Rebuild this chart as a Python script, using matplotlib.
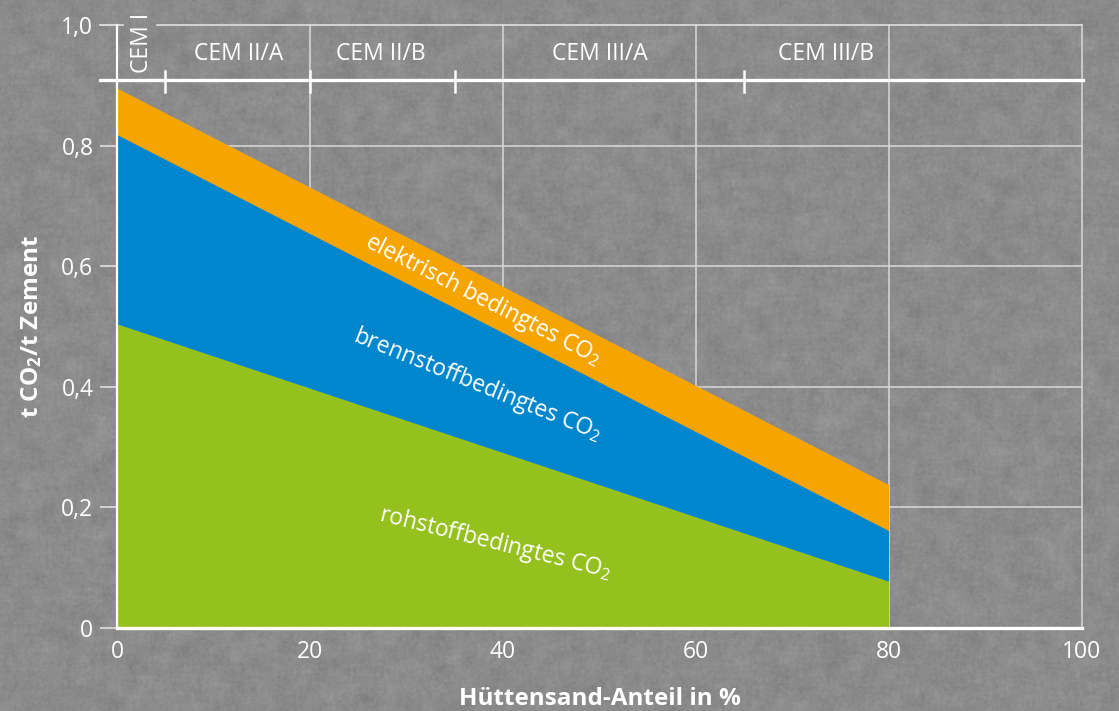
import numpy as np
import matplotlib
matplotlib.use('Agg')
import matplotlib.pyplot as plt

plt.rcParams['font.family'] = ['Open Sans', 'DejaVu Sans']
plt.rcParams['mathtext.default'] = 'regular'

# CO2 per tonne of cement over slag share (stacked contributions)
slag_share = [0, 80]
raw_co2 = [0.504, 0.077]
fuel_co2 = [0.314, 0.084]
elec_co2 = [0.077, 0.076]

# cement types along the top band
cem_types = ['CEM I', 'CEM II/A', 'CEM II/B', 'CEM III/A', 'CEM III/B']
cem_centers = [2.55, 12.6, 27.3, 50.0, 73.5]
cem_bounds = [5, 20, 35, 65]

x_ticks = [0, 20, 40, 60, 80, 100]
y_ticks = [0, 0.2, 0.4, 0.6, 0.8, 1.0]
y_ticklabels = ['0', '0,2', '0,4', '0,6', '0,8', '1,0']

colors = ['#95c11f', '#0086cd', '#f6a500']
white = '#ffffff'
grid_c = '#d9d9d9'
fs = 16.5


def smooth(a, k):
    kern = np.ones(k) / k
    a = np.apply_along_axis(lambda r: np.convolve(r, kern, mode='same'), 1, a)
    return np.apply_along_axis(lambda c: np.convolve(c, kern, mode='same'), 0, a)


def main():
    fig = plt.figure(figsize=(11.19, 7.11), dpi=100)

    # concrete-like backdrop
    rng = np.random.default_rng(7)
    blotches = smooth(rng.normal(0, 1, (711, 1119)), 15) * 15
    grain = smooth(rng.normal(0, 1, (711, 1119)), 3) * 3
    tex = 139 + 4.5 * (blotches * 0.6 + grain * 0.5)
    bg = fig.add_axes([0, 0, 1, 1], zorder=-10)
    bg.imshow(tex, cmap='gray', vmin=0, vmax=255, aspect='auto', interpolation='nearest')
    bg.axis('off')

    ax = fig.add_axes([117 / 1119, 83 / 711, 965 / 1119, 603 / 711])
    ax.set_facecolor('none')
    ax.set_xlim(0, 100)
    ax.set_ylim(0, 1.0)

    # grid
    for y in y_ticks[1:-1]:
        ax.plot([0, 100], [y, y], color=grid_c, lw=1.1, zorder=1)
    for x in x_ticks[1:]:
        ax.plot([x, x], [0, 1.0], color=grid_c, lw=1.1, zorder=1, clip_on=False)
    ax.plot([-1.8, 0.6], [1.0, 1.0], color=grid_c, lw=1.3, zorder=1, clip_on=False)
    ax.plot([4.1, 100], [1.0, 1.0], color=grid_c, lw=1.3, zorder=1, clip_on=False)

    ax.stackplot(slag_share, raw_co2, fuel_co2, elec_co2, colors=colors, zorder=2, lw=0)

    # header band with cement types
    ax.plot([-1.8, 100.1], [0.908, 0.908], color=white, lw=2.4, zorder=3, clip_on=False)
    for b in cem_bounds:
        ax.plot([b, b], [0.889, 0.923], color=white, lw=1.8, zorder=3, clip_on=False)
    for name, cx in zip(cem_types, cem_centers):
        if name == 'CEM I':
            ax.text(cx, 0.97, name, rotation=90, ha='center', va='center',
                    color=white, fontsize=fs, fontweight='medium', clip_on=False)
        else:
            ax.text(cx, 0.952, name, ha='center', va='center', color=white,
                    fontsize=fs, fontweight='medium')

    # labels inside areas
    ax.text(37.9, 0.544, 'elektrisch bedingtes CO$_2$', rotation=-27, rotation_mode='anchor',
            ha='center', va='center', color=white, fontsize=fs, fontweight='medium', zorder=4)
    ax.text(37.4, 0.403, 'brennstoffbedingtes CO$_2$', rotation=-22, rotation_mode='anchor',
            ha='center', va='center', color=white, fontsize=fs, fontweight='medium', zorder=4)
    ax.text(39.2, 0.141, 'rohstoffbedingtes CO$_2$', rotation=-14, rotation_mode='anchor',
            ha='center', va='center', color=white, fontsize=fs, fontweight='medium', zorder=4)

    # spines and ticks
    for side in ['top', 'right']:
        ax.spines[side].set_visible(False)
    ax.spines['left'].set_color(white)
    ax.spines['left'].set_linewidth(1.6)
    ax.spines['left'].set_zorder(5)
    ax.spines['bottom'].set_color(white)
    ax.spines['bottom'].set_linewidth(2.4)
    ax.spines['bottom'].set_zorder(5)

    ax.set_xticks(x_ticks)
    ax.set_yticks(y_ticks)
    ax.set_yticklabels(y_ticklabels)
    ax.tick_params(axis='x', length=0, pad=9, labelsize=fs, labelcolor=white)
    ax.tick_params(axis='y', length=12, width=1.3, color=grid_c, pad=5,
                   labelsize=fs, labelcolor=white)

    ax.set_xlabel('Hüttensand-Anteil in %', fontsize=17.5, fontweight='bold', color=white,
                  labelpad=16)
    ax.set_ylabel('t CO$_2$/t Zement', fontsize=17.5, fontweight='bold', color=white,
                  labelpad=12)

    fig.savefig('out.png', dpi=100)


if __name__ == '__main__':
    main()
